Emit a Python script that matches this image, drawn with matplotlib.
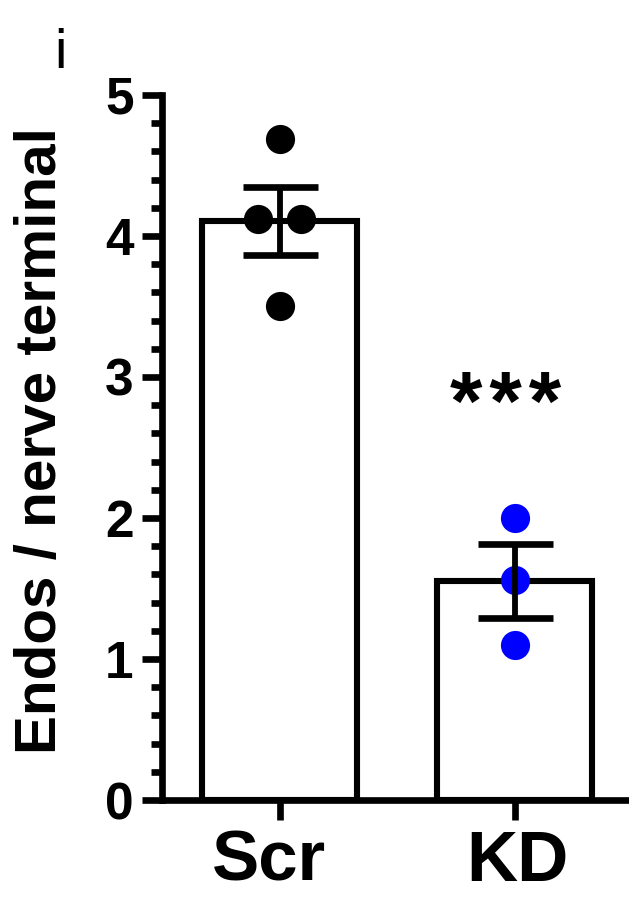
import matplotlib
matplotlib.use("Agg")
import matplotlib.pyplot as plt
import numpy as np
from matplotlib.ticker import MultipleLocator

categories = ["Scr", "KD"]
scr_points = [4.69, 4.12, 4.12, 3.50]
scr_offsets = [0.0, -0.09, 0.09, 0.0]
kd_points = [2.00, 1.56, 1.10]
kd_offsets = [0.0, 0.0, 0.0]
point_colors = ["black", "#0000ff"]
y_ticks = [0, 1, 2, 3, 4, 5]
y_label = "Endos / nerve terminal"
sig_label = "*\u200a*\u200a*"
sig_y = 2.78

plt.rcParams['font.family'] = ['Liberation Sans', 'DejaVu Sans']

fig = plt.figure(figsize=(6.29, 9.13), dpi=100)
W, H = 629, 913
ax = fig.add_axes([162 / W, (H - 800) / H, (632 - 162) / W, (800 - 95) / H])

groups = [scr_points, kd_points]
offs = [scr_offsets, kd_offsets]
xs = np.arange(len(categories))
means = [np.mean(g) for g in groups]
sems = [np.std(g, ddof=1) / np.sqrt(len(g)) for g in groups]

lw = 4.4
ax.bar(xs, means, width=0.66, color="white", edgecolor="black", linewidth=lw, zorder=1)
for i, (g, o) in enumerate(zip(groups, offs)):
    ax.plot(np.array(o) + xs[i], g, "o", color=point_colors[i], markersize=21,
            markeredgewidth=0, zorder=2, clip_on=False)
eb = ax.errorbar(xs, means, yerr=sems, fmt="none", ecolor="black", elinewidth=4.2,
                 capsize=27, capthick=4.8, zorder=3)
for c in eb[1]:
    c.set_solid_capstyle("butt")

ax.set_xlim(-0.5, 1.5)
ax.set_ylim(0, 5)
ax.set_yticks(y_ticks)
ax.yaxis.set_minor_locator(MultipleLocator(0.2))
ax.set_xticks(xs)
ax.set_xticklabels([])
ax.set_yticklabels([str(t) for t in y_ticks], fontsize=37, fontweight="bold")

# category labels (Scr sits slightly left of its tick in the reference)
label_dx = [-7.5, 2.0]
for x, cat, dx in zip(xs, categories, label_dx):
    ax.annotate(cat, xy=(x, 0), xycoords=("data", "axes fraction"),
                xytext=(dx, -21.5), textcoords="offset points",
                ha="center", va="top", fontsize=51, fontweight="bold",
                annotation_clip=False)

for s in ["top", "right"]:
    ax.spines[s].set_visible(False)
for s in ["left", "bottom"]:
    ax.spines[s].set_linewidth(4.8)
    ax.spines[s].set_capstyle("projecting")

ax.tick_params(axis="y", which="major", length=14.5, width=4.8, pad=6)
ax.tick_params(axis="y", which="minor", length=8, width=4.8)
ax.tick_params(axis="x", which="major", length=14.5, width=4.8, pad=7)

ax.text(xs[1] - 0.04, sig_y, sig_label, fontsize=60, fontweight="bold",
        ha="center", va="center")

fig.text(41 / W, 1 - 441 / H, y_label, rotation=90, fontsize=42, fontweight="bold",
         ha="center", va="center")
fig.text(60 / W, 1 - 68 / H, "i", fontsize=40, ha="center", va="baseline")

fig.savefig("out.png", dpi=100)
